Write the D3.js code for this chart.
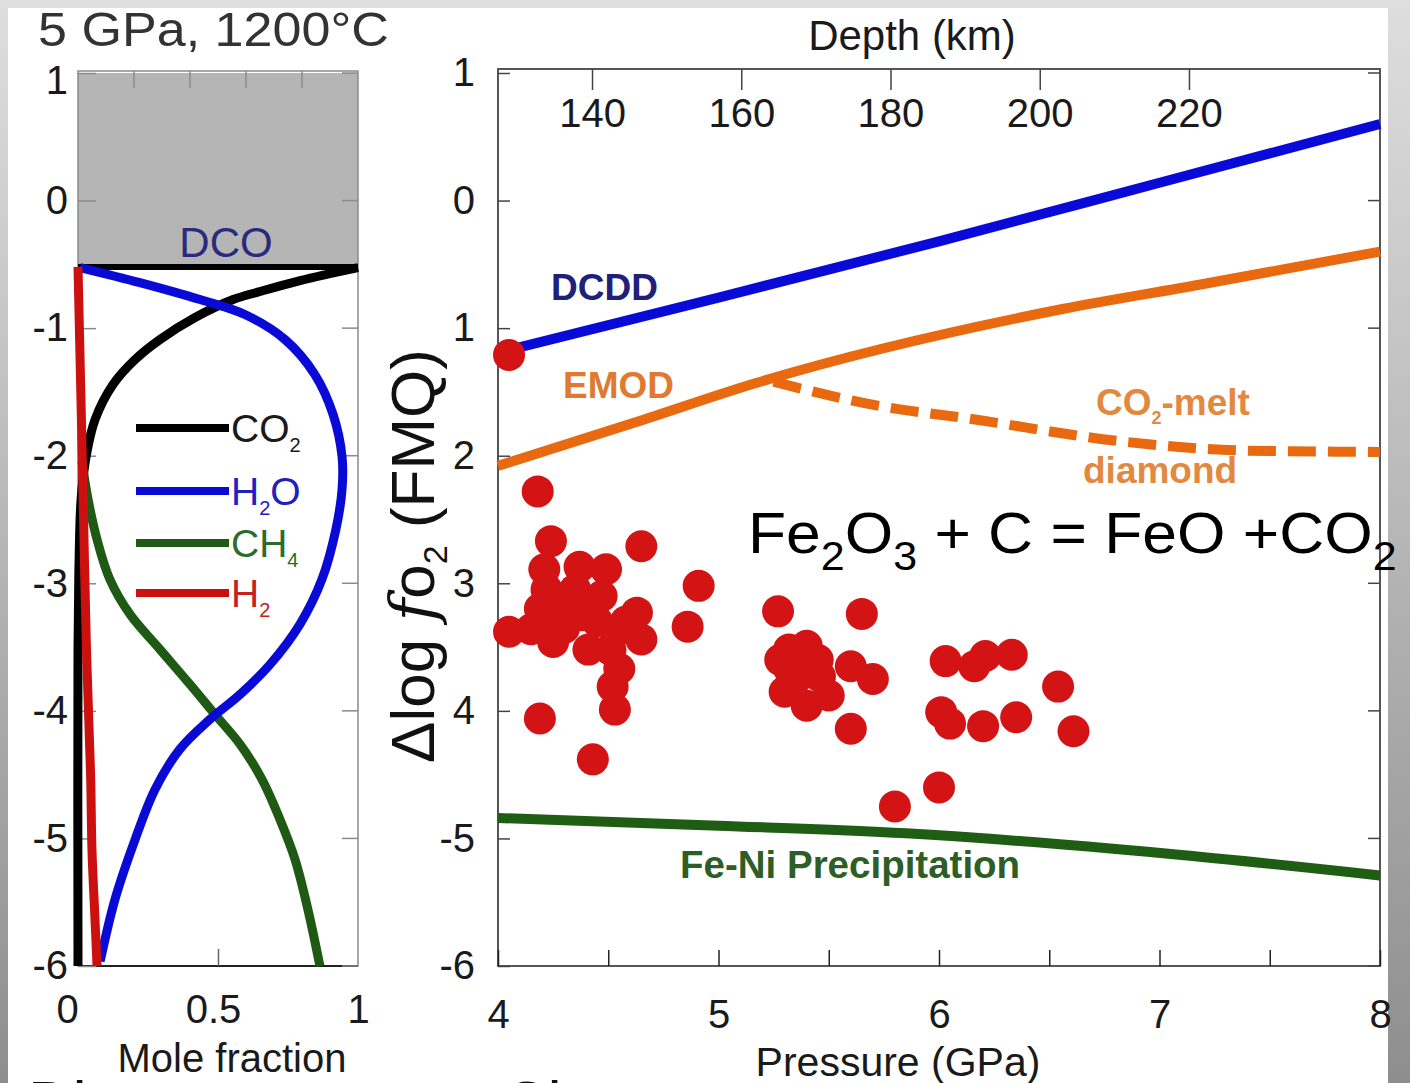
<!DOCTYPE html>
<html>
<head>
<meta charset="utf-8">
<script src="https://cdn.jsdelivr.net/npm/d3@7"></script>
<style>
	body { margin: 0; background: #fff; }
	svg { display: block; font-family: "Liberation Sans", Arial, sans-serif; }
</style>
</head>
<body>
<div id="chartDiv"></div>
<script>
;(function() {

	var width = 1410;
	var height = 1083;

	// ---- left panel: speciation of C-O-H fluid (x = mole fraction, y = log fO2) ----
	var co2Curve = [[1.0,-0.525],[0.793,-0.627],[0.65,-0.713],[0.554,-0.776],[0.418,-0.917],[0.293,-1.089],[0.204,-1.246],[0.125,-1.442],[0.061,-1.716],[0.029,-2.006],[0.011,-2.343],[0.004,-2.81],[0.0,-3.52],[0.0,-6.0]];
	var h2oCurve = [[0.007,-0.525],[0.221,-0.643],[0.436,-0.776],[0.596,-0.893],[0.739,-1.089],[0.846,-1.364],[0.911,-1.677],[0.943,-2.006],[0.943,-2.265],[0.921,-2.578],[0.871,-2.97],[0.793,-3.32],[0.686,-3.636],[0.579,-3.871],[0.471,-4.067],[0.364,-4.30],[0.275,-4.616],[0.204,-5.008],[0.132,-5.478],[0.079,-5.964]];
	var ch4Curve = [[0.014,-2.045],[0.036,-2.343],[0.068,-2.657],[0.114,-2.97],[0.186,-3.244],[0.293,-3.519],[0.40,-3.793],[0.489,-4.028],[0.579,-4.263],[0.657,-4.537],[0.721,-4.85],[0.775,-5.164],[0.821,-5.556],[0.864,-6.0]];
	var h2Curve = [[0.0,-0.52],[0.01,-1.5],[0.02,-2.5],[0.03,-3.5],[0.045,-4.5],[0.05,-5.1],[0.06,-5.6],[0.068,-6.0]];
	var dcoLevel = -0.52;

	var speciesNames = ["CO", "H", "CH", "H"];
	var speciesSubs = ["2", "2", "4", "2"];
	var speciesTails = ["", "O", "", ""];
	var speciesColors = ["#000000", "#0a0ad6", "#1e5a14", "#cc1010"];
	var speciesText = ["#1a1a1a", "#2020c0", "#2f6a2a", "#c42222"];

	var leftXTicksTop = [0.2, 0.4, 0.6, 0.8];
	var leftXTicksBottom = [0, 0.5, 1];
	var leftYTicks = [1, 0, -1, -2, -3, -4, -5, -6];

	// ---- right panel: log fO2 vs pressure ----
	var dcddLine = [[4.05,-1.17],[5,-0.76],[6,-0.32],[7,0.14],[8,0.6]];
	var emodLine = [[4,-2.08],[4.62,-1.74],[5.17,-1.43],[6.56,-0.85],[7.18,-0.66],[8,-0.40]];
	var meltDiamondLine = [[5.25,-1.42],[5.73,-1.61],[6.14,-1.71],[6.84,-1.89],[7.39,-1.96],[8,-1.97]];
	var feNiLine = [[4,-4.84],[5,-4.9],[5.85,-4.96],[7.04,-5.12],[8,-5.29]];

	var samplesP = [4.05,4.18,4.24,4.21,4.37,4.49,4.65,4.91,4.05,4.15,4.25,4.29,4.43,4.47,4.41,4.51,4.63,4.65,4.55,4.52,4.53,4.19,4.43,4.86,4.35,4.28,4.55,4.19,
		4.30,4.38,4.22,4.45,4.58,
		5.27,5.65,5.32,5.40,5.32,5.38,5.30,5.40,5.50,5.46,5.60,5.70,5.60,5.35,5.45,5.28,
		6.03,6.16,6.21,6.33,6.01,6.05,6.20,6.35,6.54,6.61,5.80,6.00];
	var samplesFO2 = [-1.21,-2.28,-2.67,-2.89,-2.87,-2.89,-2.71,-3.02,-3.38,-3.36,-3.46,-3.15,-3.20,-3.10,-3.52,-3.52,-3.23,-3.44,-3.67,-3.81,-3.99,-4.06,-4.38,-3.34,-3.05,-3.28,-3.36,-3.20,
		-3.35,-3.25,-3.05,-3.30,-3.30,
		-3.22,-3.24,-3.52,-3.49,-3.67,-3.62,-3.85,-3.96,-3.88,-3.73,-3.65,-3.75,-4.14,-3.75,-3.60,-3.60,
		-3.61,-3.65,-3.57,-3.56,-4.01,-4.10,-4.12,-4.05,-3.81,-4.16,-4.75,-4.60];

	var pressureTicks = [4, 4.5, 5, 5.5, 6, 6.5, 7, 7.5, 8];
	var depthTicks = [140, 160, 180, 200, 220];
	var rightYTicks = [1, 0, -1, -2, -3, -4, -5, -6];
	var rightYLabels = ["1", "0", "1", "2", "3", "4", "-5", "-6"];

	var svg, yScale, xLeft, xRight, xDepth;

	init();

	function init() {
		svg = d3.select("#chartDiv").append("svg")
			.attr("width", width)
			.attr("height", height);

		yScale = d3.scaleLinear().domain([-6, 1]).range([966, 73]);
		xLeft = d3.scaleLinear().domain([0, 1]).range([78, 358]);
		xRight = d3.scaleLinear().domain([4, 8]).range([498, 1380]);
		xDepth = d3.scaleLinear().domain([127.4, 245.6]).range([498, 1380]);

		drawBackground();
		drawLeftPanel();
		drawRightPanel();
	}

	function drawBackground() {
		var defs = svg.append("defs");
		var grad = defs.append("linearGradient")
			.attr("id", "bgGrad")
			.attr("x1", 0).attr("y1", 0).attr("x2", 0).attr("y2", 1);
		grad.append("stop").attr("offset", "0%").attr("stop-color", "#dedede");
		grad.append("stop").attr("offset", "100%").attr("stop-color", "#8e8e8e");

		svg.append("rect")
			.attr("width", width).attr("height", height)
			.attr("fill", "url(#bgGrad)");
		svg.append("rect")
			.attr("x", 8).attr("y", 8)
			.attr("width", 1380).attr("height", height - 8)
			.attr("fill", "#fff");

		// cropped words at the very bottom of the slide
		svg.append("text").attr("x", 28).attr("y", 1124)
			.style("font-size", "62px").attr("fill", "#111").text("Di");
		svg.append("text").attr("x", 503).attr("y", 1124)
			.style("font-size", "62px").attr("fill", "#111").text("Ci");
	}

	function drawLeftPanel() {
		var g = svg.append("g").attr("class", "left-panel");

		// DCO field (graphite unstable)
		g.append("rect")
			.attr("x", xLeft(0)).attr("y", yScale(1))
			.attr("width", xLeft(1) - xLeft(0))
			.attr("height", yScale(dcoLevel) - yScale(1))
			.attr("fill", "#b5b5b5");

		// frame
		g.append("rect")
			.attr("x", xLeft(0)).attr("y", yScale(1) - 2)
			.attr("width", xLeft(1) - xLeft(0))
			.attr("height", yScale(-6) - yScale(1) + 2)
			.attr("fill", "none")
			.attr("stroke", "#8a8a8a")
			.attr("stroke-width", 1.5);
		g.append("line")
			.attr("x1", xLeft(0)).attr("x2", xLeft(1))
			.attr("y1", yScale(-6)).attr("y2", yScale(-6))
			.attr("stroke", "#222").attr("stroke-width", 2);

		// y axis labels + inward ticks
		var yAxis = d3.axisLeft(yScale)
			.tickValues(leftYTicks)
			.tickFormat(function(d) { return d < 0 ? "-" + Math.abs(d) : d; })
			.tickSizeInner(-18).tickSizeOuter(0).tickPadding(10);
		var ya = g.append("g")
			.attr("transform", "translate(" + xLeft(0) + ",0)")
			.call(yAxis);
		styleAxis(ya, "#8a8a8a");
		ya.selectAll(".tick text").filter(function(d) { return d === 1; }).attr("dy", "0.5em");

		// right side ticks
		g.append("g").selectAll("line")
			.data(leftYTicks)
			.enter().append("line")
				.attr("x1", xLeft(1) - 16).attr("x2", xLeft(1))
				.attr("y1", function(d) { return yScale(d); })
				.attr("y2", function(d) { return yScale(d); })
				.attr("stroke", "#8a8a8a").attr("stroke-width", 1.5);

		// top ticks
		g.append("g").selectAll("line")
			.data(leftXTicksTop)
			.enter().append("line")
				.attr("x1", function(d) { return xLeft(d); })
				.attr("x2", function(d) { return xLeft(d); })
				.attr("y1", yScale(1) - 2).attr("y2", yScale(1) + 15)
				.attr("stroke", "#8a8a8a").attr("stroke-width", 1.5);

		// bottom axis
		var xAxis = d3.axisBottom(xLeft)
			.tickValues(leftXTicksBottom)
			.tickFormat(d3.format("~g"))
			.tickSizeInner(-17).tickSizeOuter(0).tickPadding(29);
		var xa = g.append("g")
			.attr("transform", "translate(0," + yScale(-6) + ")")
			.call(xAxis);
		styleAxis(xa, "#666");
		xa.selectAll(".tick line").filter(function(d) { return d !== 0.5; }).remove();
		xa.selectAll(".tick text").filter(function(d) { return d === 0; }).attr("dx", -11);
		xa.selectAll(".tick text").filter(function(d) { return d === 0.5; }).attr("dx", -5);

		// DCO boundary
		g.append("line")
			.attr("x1", xLeft(0)).attr("x2", xLeft(1))
			.attr("y1", yScale(dcoLevel)).attr("y2", yScale(dcoLevel))
			.attr("stroke", "#000").attr("stroke-width", 6);

		g.append("text")
			.attr("x", 226).attr("y", 257)
			.attr("text-anchor", "middle")
			.style("font-size", "42px")
			.attr("fill", "#2a2a7e")
			.text("DCO");

		var line = d3.line()
			.x(function(d) { return xLeft(d[0]); })
			.y(function(d) { return yScale(d[1]); })
			.curve(d3.curveCatmullRom.alpha(0.5));

		var curves = [co2Curve, ch4Curve, h2oCurve, h2Curve];
		var colors = [speciesColors[0], speciesColors[2], speciesColors[1], speciesColors[3]];
		curves.forEach(function(c, i) {
			g.append("path")
				.datum(c)
				.attr("d", line)
				.attr("fill", "none")
				.attr("stroke", colors[i])
				.attr("stroke-width", 9)
				.attr("stroke-linejoin", "round");
		});

		// legend
		var legendY = [428, 491, 543, 593];
		var leg = g.append("g").attr("class", "legend");
		speciesNames.forEach(function(name, i) {
			leg.append("line")
				.attr("x1", 136).attr("x2", 229)
				.attr("y1", legendY[i]).attr("y2", legendY[i])
				.attr("stroke", speciesColors[i])
				.attr("stroke-width", 8);
			var t = leg.append("text")
				.attr("x", 231).attr("y", legendY[i] + 14)
				.style("font-size", "39px")
				.attr("fill", speciesText[i]);
			t.append("tspan").text(name);
			t.append("tspan").attr("dy", 10).style("font-size", "20px").text(speciesSubs[i]);
			if (speciesTails[i]) {
				t.append("tspan").attr("dy", -10).text(speciesTails[i]);
			}
		});

		// titles
		svg.append("text")
			.attr("transform", "translate(38,46) scale(1.085,1)")
			.style("font-size", "48px")
			.attr("fill", "#333")
			.text("5 GPa, 1200\u00b0C");

		svg.append("text")
			.attr("x", 232).attr("y", 1072)
			.attr("text-anchor", "middle")
			.style("font-size", "40px")
			.attr("fill", "#1a1a1a")
			.text("Mole fraction");
	}

	function drawRightPanel() {
		var g = svg.append("g").attr("class", "right-panel");

		// frame
		g.append("rect")
			.attr("x", xRight(4)).attr("y", yScale(1) - 4)
			.attr("width", xRight(8) - xRight(4))
			.attr("height", yScale(-6) - yScale(1) + 4)
			.attr("fill", "none")
			.attr("stroke", "#444")
			.attr("stroke-width", 1.8);

		// left y axis
		var yAxis = d3.axisLeft(yScale)
			.tickValues(rightYTicks)
			.tickFormat(function(d, i) { return rightYLabels[i]; })
			.tickSizeInner(-12).tickSizeOuter(0).tickPadding(23);
		var ya = g.append("g")
			.attr("transform", "translate(" + xRight(4) + ",0)")
			.call(yAxis);
		styleAxis(ya, "#444");

		// right y ticks
		g.append("g").selectAll("line")
			.data(rightYTicks)
			.enter().append("line")
				.attr("x1", xRight(8) - 12).attr("x2", xRight(8))
				.attr("y1", function(d) { return yScale(d); })
				.attr("y2", function(d) { return yScale(d); })
				.attr("stroke", "#444").attr("stroke-width", 1.5);

		// pressure axis
		var xAxis = d3.axisBottom(xRight)
			.tickValues(pressureTicks)
			.tickFormat(function(d) { return Number.isInteger(d) ? d : ""; })
			.tickSizeInner(-16).tickSizeOuter(0).tickPadding(34);
		var xa = g.append("g")
			.attr("transform", "translate(0," + yScale(-6) + ")")
			.call(xAxis);
		styleAxis(xa, "#222");

		// depth axis (inside top)
		var dAxis = d3.axisBottom(xDepth)
			.tickValues(depthTicks)
			.tickSizeInner(21).tickSizeOuter(0).tickPadding(9);
		var da = g.append("g")
			.attr("transform", "translate(0," + (yScale(1) - 4) + ")")
			.call(dAxis);
		styleAxis(da, "#444");

		svg.append("text")
			.attr("x", 912).attr("y", 50)
			.attr("text-anchor", "middle")
			.style("font-size", "42px")
			.attr("fill", "#1a1a1a")
			.text("Depth (km)");

		svg.append("text")
			.attr("x", 898).attr("y", 1076)
			.attr("text-anchor", "middle")
			.style("font-size", "41px")
			.attr("fill", "#1a1a1a")
			.text("Pressure (GPa)");

		// y title
		var yt = svg.append("text")
			.attr("transform", "translate(434,556) rotate(-90)")
			.attr("text-anchor", "middle")
			.style("font-size", "62px")
			.attr("fill", "#111");
		yt.append("tspan").text("\u0394log ");
		yt.append("tspan")
			.style("font-family", "'DejaVu Serif', 'Liberation Serif', serif")
			.style("font-style", "italic")
			.text("f");
		yt.append("tspan").text("o");
		yt.append("tspan").attr("dy", 13).style("font-size", "34px").text("2");
		yt.append("tspan").attr("dy", -13).text(" (FMQ)");

		var line = d3.line()
			.x(function(d) { return xRight(d[0]); })
			.y(function(d) { return yScale(d[1]); })
			.curve(d3.curveMonotoneX);

		g.append("path").datum(feNiLine).attr("d", line)
			.attr("fill", "none").attr("stroke", "#1f5c14").attr("stroke-width", 10);
		g.append("path").datum(meltDiamondLine).attr("d", line)
			.attr("fill", "none").attr("stroke", "#e8690f").attr("stroke-width", 10)
			.attr("stroke-dasharray", "28,12");
		g.append("path").datum(emodLine).attr("d", line)
			.attr("fill", "none").attr("stroke", "#e8690f").attr("stroke-width", 10);
		g.append("path").datum(dcddLine).attr("d", line)
			.attr("fill", "none").attr("stroke", "#0a0ad8").attr("stroke-width", 10);

		// samples
		var samples = samplesP.map(function(p, i) { return { xVal: p, yVal: samplesFO2[i] }; });
		g.selectAll(".dot")
			.data(samples)
			.enter().append("circle")
				.attr("class", "dot")
				.attr("cx", function(d) { return xRight(d.xVal); })
				.attr("cy", function(d) { return yScale(d.yVal); })
				.attr("r", 16)
				.style("fill", "#d41414");

		// line labels
		addLabel(g, 551, 300, "#20207a", ["DCDD"], 37);
		addLabel(g, 563, 398, "#e07a30", ["EMOD"], 37);
		addLabel(g, 1096, 415, "#e3893f", ["CO", "2", "-melt"], 37);
		addLabel(g, 1083, 483, "#e3893f", ["diamond"], 37);
		addLabel(g, 680, 878, "#2c5e25", ["Fe-Ni Precipitation"], 38.5);

		// reaction
		var eq = svg.append("text")
			.attr("transform", "translate(748,553) scale(1.075,1)")
			.style("font-size", "58px")
			.attr("fill", "#000");
		eq.append("tspan").text("Fe");
		eq.append("tspan").attr("dy", 17).style("font-size", "40px").text("2");
		eq.append("tspan").attr("dy", -17).text("O");
		eq.append("tspan").attr("dy", 17).style("font-size", "40px").text("3");
		eq.append("tspan").attr("dy", -17).text(" + C = FeO +CO");
		eq.append("tspan").attr("dy", 17).style("font-size", "40px").text("2");
	}

	function addLabel(g, x, y, color, parts, size) {
		var t = g.append("text")
			.attr("x", x).attr("y", y)
			.style("font-size", size + "px")
			.style("font-weight", "bold")
			.attr("fill", color);
		t.append("tspan").text(parts[0]);
		if (parts.length > 1) {
			t.append("tspan").attr("dy", 9).style("font-size", "18px").text(parts[1]);
			t.append("tspan").attr("dy", -9).text(parts[2]);
		}
	}

	function styleAxis(a, color) {
		a.select(".domain").remove();
		a.selectAll(".tick line").attr("stroke", color).attr("stroke-width", 1.5);
		a.selectAll(".tick text")
			.style("font-size", "40px")
			.style("font-family", "'Liberation Sans', Arial, sans-serif")
			.attr("fill", "#1a1a1a");
	}

})();
</script>
</body>
</html>
